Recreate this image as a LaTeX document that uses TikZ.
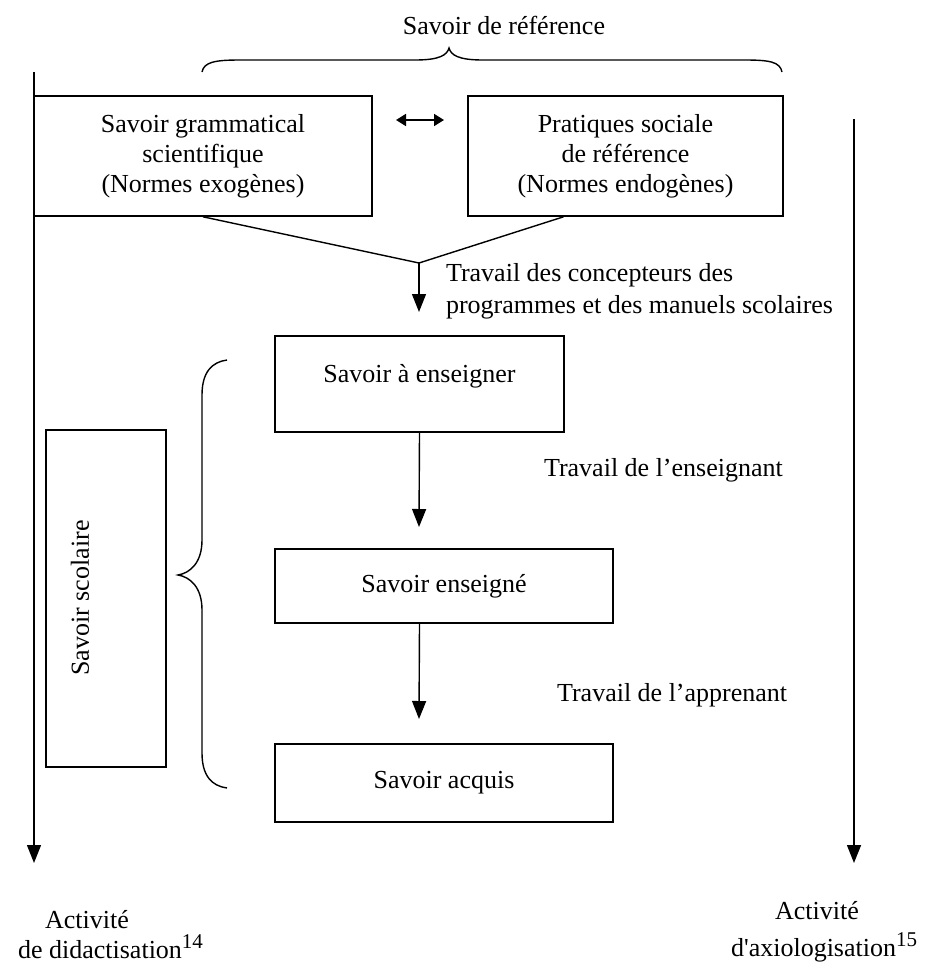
\documentclass[tikz,border=0pt]{standalone}
\usepackage{fontspec}
\setmainfont{Liberation Serif}
\usetikzlibrary{arrows.meta}

\tikzset{
  box/.style={draw, line width=0.8pt, align=center, inner sep=0pt},
  flow/.style={line width=0.7pt, -{Triangle[length=9pt,width=7pt]}},
  brace/.style={line width=0.7pt},
}
\newcommand{\fnmark}[1]{\raisebox{5pt}{\fontsize{10.5}{11}\selectfont #1}}

\begin{document}
\begin{tikzpicture}[x=0.5pt, y=-0.5pt, font=\fontsize{13}{15}\selectfont]
  \useasboundingbox (0,0) rectangle (925,964);

  % Savoir de reference
  \node (ref) at (504,25) {Savoir de référence};
  \draw[brace] (202,72) .. controls (204,62) and (215,60) .. (240,60) -- (415,60)
    .. controls (440,60) and (447,55) .. (449,48)
    .. controls (451,55) and (458,60) .. (483,60) -- (745,60)
    .. controls (770,60) and (780,62) .. (782,72);

  % Top boxes
  \node[box, minimum width=169pt, minimum height=60pt] (gram) at (203,156)
    {Savoir grammatical\\scientifique\\(Normes exogènes)};
  \node[box, minimum width=157.5pt, minimum height=60pt] (prat) at (625.5,156)
    {Pratiques sociale\\de référence\\(Normes endogènes)};
  \coordinate (dl) at (396,120);
  \coordinate (dr) at (444,120);
  \draw[line width=0.9pt, {Triangle[length=5pt,width=6pt]}-{Triangle[length=5pt,width=6pt]}] (dl) -- (dr);

  % Funnel
  \coordinate (meet) at (419,263);
  \coordinate (conc) at (419,312);
  \draw[line width=0.7pt] (gram.south) -- (meet) -- ([xshift=-31pt]prat.south);
  \draw[flow] (meet) -- (conc);
  \node[anchor=west, align=left] (conc-txt) at (439,291)
    {Travail des concepteurs des\\[1pt]programmes et des manuels scolaires};

  % School knowledge
  \node[box, minimum width=144.5pt, minimum height=48pt,
    label={[yshift=4pt]center:Savoir à enseigner}] (aens) at (419.5,384) {};
  \node[box, minimum width=169pt, minimum height=37pt] (ensg) at (444,586) {Savoir enseigné};
  \node[box, minimum width=169pt, minimum height=39pt] (acq) at (444,783) {Savoir acquis};
  \coordinate (t1) at (419,527);
  \coordinate (t2) at (419,719);
  \draw[flow] (aens.south) -- (t1);
  \draw[flow] (ensg.south -| aens.south) -- (t2);
  \node[anchor=west] (ens-txt) at (537,470) {Travail de l’enseignant};
  \node[anchor=west] (app-txt) at (550,695) {Travail de l’apprenant};

  % Savoir scolaire
  \node[box, minimum width=60pt, minimum height=168.5pt] (scol) at (106,598.5) {};
  \node[rotate=90] (scol-txt) at (80,598) {Savoir scolaire};
  \draw[brace] (227,360) .. controls (212,362) and (202,372) .. (202,395) -- (202,540)
    .. controls (202,563) and (190,573) .. (178,575)
    .. controls (190,577) and (202,587) .. (202,610) -- (202,753)
    .. controls (202,776) and (212,786) .. (227,788);

  % Activity axes
  \coordinate (didtop) at (34,72);
  \coordinate (didend) at (34,863);
  \coordinate (axtop) at (854,119);
  \coordinate (axend) at (854,863);
  \draw[flow] (didtop) -- (didend);
  \draw[flow] (axtop) -- (axend);
  \node[anchor=west, align=left] (did) at (11,935)
    {\hspace{13.5pt}Activité\\de didactisation\fnmark{14}};
  \node[anchor=west, align=left] (axio) at (724,931.5)
    {\hspace{22pt}Activité\\[3.5pt]d\textquotesingle axiologisation\fnmark{15}};
\end{tikzpicture}
\end{document}
